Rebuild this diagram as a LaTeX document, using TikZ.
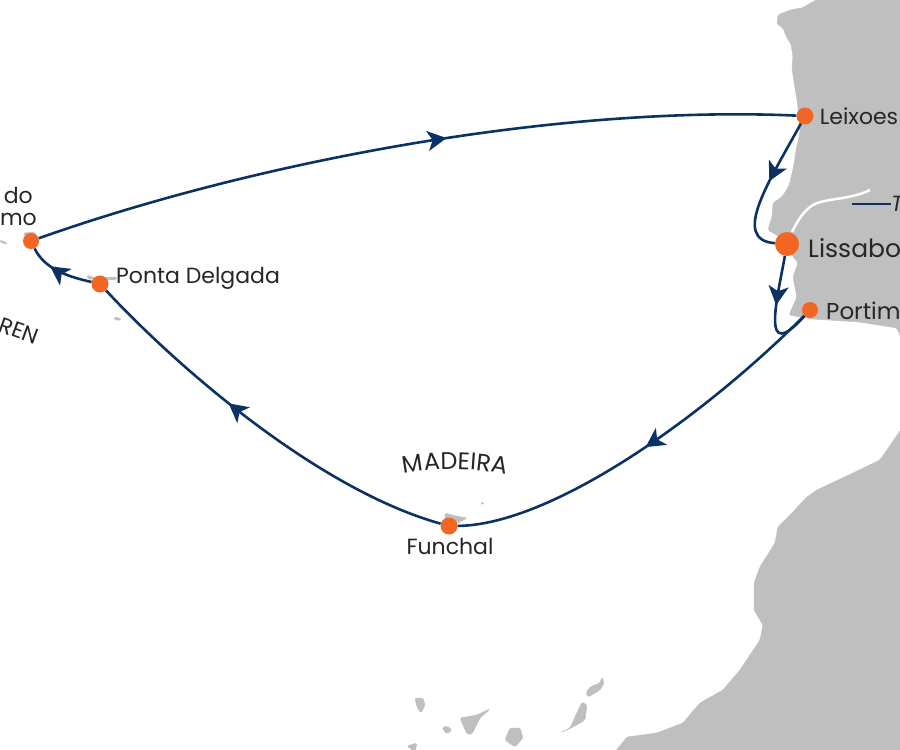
\documentclass[tikz,border=0pt]{standalone}
\usepackage{fontspec}
\setmainfont{Poppins}
\usetikzlibrary{positioning,arrows.meta,decorations.markings,decorations.text}
\definecolor{landgray}{HTML}{BFBFBF}
\definecolor{routeblue}{HTML}{0A3364}
\definecolor{portorange}{HTML}{F26522}
\tikzset{
	land/.style={fill=landgray,draw=landgray,line width=.5pt,line join=round,rounded corners=1.5pt},
	route/.style={draw=routeblue,line width=2.6pt},
	routemark/.style={route,postaction={decorate},decoration={markings,mark=at position #1 with {\arrow[routeblue]{Stealth[length=19pt,width=20pt,inset=5pt]}}}},
	port/.style={circle,fill=portorange,inner sep=0pt,minimum size=#1},
	lbl/.style={inner sep=0pt,text=black!85,font=\fontsize{22}{24}\selectfont}
}
\begin{document}
\begin{tikzpicture}[x=1pt,y=-1pt]
	\useasboundingbox (0,0) rectangle (900,750);
	% land
	\fill[land] (820,-2) -- (802,8) -- (790,10) -- (778,15) -- (777,24) -- (783,28) -- (787,38) -- (791,44) -- (793,57) -- (792,68) -- (794,82) -- (797,100) -- (799,116) -- (800,133) -- (796,150) -- (794,165) -- (789,186) -- (782,197) -- (773,203) -- (772,217) -- (768,230) -- (780,237) -- (790,252) -- (798,263) -- (793,277) -- (797,297) -- (789,315) -- (813,319) -- (860,322) -- (897,328) -- (902,340) -- (902,-2) -- cycle;
	\fill[land] (902,428) -- (880,460) -- (853,473) -- (817,490) -- (807,497) -- (790,515) -- (778,527) -- (775,543) -- (760,567) -- (754,583) -- (754,610) -- (763,625) -- (760,640) -- (740,670) -- (723,690) -- (700,703) -- (683,723) -- (657,733) -- (627,737) -- (615,752) -- (902,752) -- cycle;
	\fill[land] (415,698) -- (423,698) -- (425,705) -- (421,713) -- (417,707) -- cycle;
	\fill[land] (442,728) -- (447,726) -- (452,730) -- (447,734) -- cycle;
	\fill[land] (460,718) -- (477,715) -- (490,709) -- (480,718) -- (472,734) -- (467,734) -- cycle;
	\fill[land] (510,728) -- (520,728) -- (523,738) -- (515,747) -- (505,740) -- cycle;
	\fill[land] (582,702) -- (587,705) -- (585,720) -- (573,727) -- (560,733) -- (570,728) -- (575,717) -- cycle;
	\fill[land] (602,677) -- (604,683) -- (600,690) -- (588,697) -- (586,693) -- (590,687) -- (600,683) -- cycle;
	\fill[land] (407,746) -- (417,743) -- (415,752) -- cycle;
	\fill[land] (445,513) -- (456,516) -- (467,518) -- (458,523) -- (445,522) -- cycle;
	\fill[land] (480,503) -- (484,502) -- (483,505) -- cycle;
	\fill[land] (23,233) -- (35,232) -- (36,238) -- (25,236) -- cycle;
	\fill[land] (0,240) -- (7,243) -- (6,244) -- (0,242) -- cycle;
	\fill[land] (87,275) -- (95,278) -- (117,277) -- (116,280) -- (88,279) -- cycle;
	\fill[land] (114,317) -- (120,318) -- (121,320) -- (115,320) -- cycle;
	\draw[white,line width=2.5pt] (870,190) .. controls (850,200) and (825,198) .. (813,205) .. controls (803,211) and (797,222) .. (792,232);
	% ports
	\node[port=17pt] (leixoes) at (805,116) {};
	\node[port=24pt] (lissabon) at (787,244) {};
	\node[port=16pt] (portimao) at (810,310) {};
	\node[port=17pt] (funchal) at (449,526) {};
	\node[port=17pt] (delgada) at (100,284) {};
	\node[port=16pt] (heroismo) at (31,241) {};
	% labels
	\node[lbl,right=6pt of leixoes] (leixoeslbl) {Leixoes};
	\node[lbl,anchor=west,font=\fontsize{25}{27}\selectfont] (lissabonlbl) at (808,248) {Lissabo};
	\node[lbl,anchor=west,font=\fontsize{23}{25}\selectfont] (portimaolbl) at (826,311) {Portim};
	\node[lbl,anchor=north] (funchallbl) at (450,538) {Funchal};
	\node[lbl,anchor=west] (delgadalbl) at (116,278) {Ponta Delgada};
	\node[lbl,anchor=east] (dolbl) at (33,195) {do};
	\node[lbl,anchor=east] (molbl) at (37,219) {mo};
	\node[lbl,rotate=-20] (azorenlbl) at (19,331) {REN};
	\node[lbl,anchor=west,font=\fontsize{22}{24}\selectfont\itshape] (tlbl) at (891,204) {T};
	\coordinate (tstart) at (852,204);
	\draw[route] (tstart) -- (tlbl.west);
	\path[decorate,decoration={text along path,text align=center,text={|\fontsize{24}{26}\selectfont\color{black!85}|MADEIRA}}] (396,476) .. controls (430,467) and (480,467) .. (514,477);
	% route
	\draw[routemark=.545] (heroismo) .. controls (260,160) and (560,105) .. (leixoes);
	\draw[routemark=.46] (leixoes) .. controls (770,180) and (730,240) .. (lissabon);
	\draw[routemark=.45] (lissabon) .. controls (777,300) and (760,365) .. (portimao);
	\draw[routemark=.5] (portimao) .. controls (700,420) and (550,525) .. (funchal);
	\draw[routemark=.595] (funchal) .. controls (320,490) and (180,370) .. (delgada);
	\draw[routemark=.65] (delgada) .. controls (70,277) and (45,270) .. (heroismo);
\end{tikzpicture}
\end{document}
